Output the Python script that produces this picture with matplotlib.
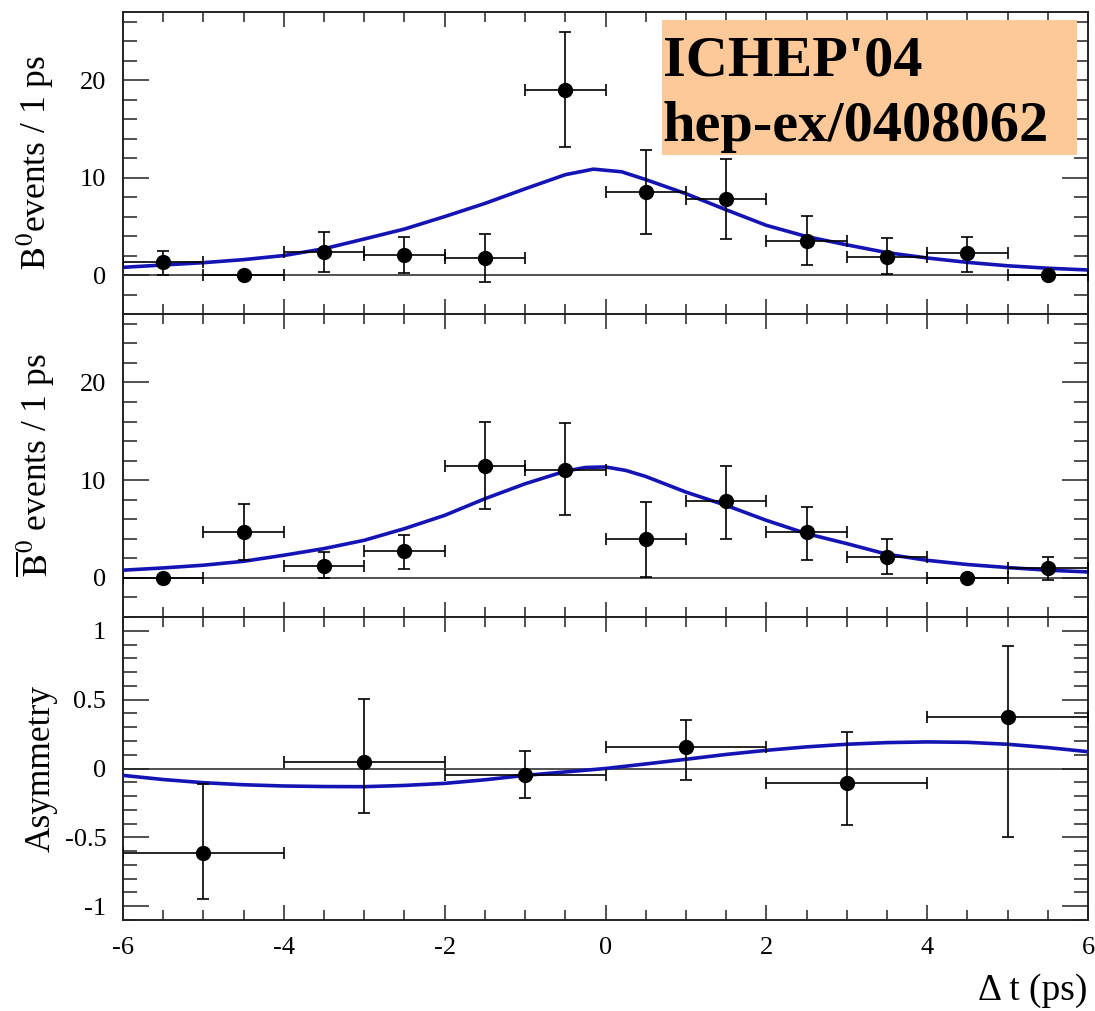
import matplotlib
matplotlib.use("Agg")
import matplotlib.pyplot as plt
from matplotlib.patches import Rectangle
from matplotlib.ticker import MultipleLocator
import numpy as np

plt.rcParams['font.family'] = ['Liberation Serif', 'DejaVu Serif']
plt.rcParams['mathtext.fontset'] = 'stix'
plt.rcParams['axes.unicode_minus'] = False

# ---------------- data ----------------
# B0 tagged events (1 ps bins)
b0_x = [-5.5, -4.5, -3.5, -2.5, -1.5, -0.5, 0.5, 1.5, 2.5, 3.5, 4.5, 5.5]
b0_y = [1.37, 0.0, 2.33, 2.05, 1.71, 18.97, 8.55, 7.76, 3.49, 1.88, 2.22, 0.0]
b0_hi = [2.46, 0.0, 4.44, 3.86, 4.17, 24.9, 12.8, 11.96, 6.05, 3.83, 3.93, 0.0]
b0_lo = [0.0, 0.0, 0.34, 0.17, -0.68, 13.1, 4.2, 3.69, 0.99, 0.10, 0.34, 0.0]

# B0bar tagged events
b0bar_x = [-5.5, -4.5, -3.5, -2.5, -1.5, -0.5, 0.5, 1.5, 2.5, 3.5, 4.5, 5.5]
b0bar_y = [0.0, 4.7, 1.22, 2.72, 11.5, 11.0, 3.95, 7.83, 4.7, 2.14, 0.0, 1.02]
b0bar_hi = [0.0, 7.59, 2.65, 4.43, 16.0, 15.86, 7.76, 11.5, 7.3, 3.95, 0.0, 2.14]
b0bar_lo = [0.0, 1.88, 0.0, 0.95, 7.0, 6.4, 0.1, 4.0, 1.88, 0.38, 0.0, -0.2]

# Asymmetry (2 ps bins)
asym_x = [-5, -3, -1, 1, 3, 5]
asym_y = [-0.617, 0.05, -0.047, 0.159, -0.108, 0.375]
asym_hi = [-0.11, 0.503, 0.127, 0.353, 0.268, 0.89]
asym_lo = [-0.947, -0.326, -0.217, -0.086, -0.409, -0.496]

# fit curves
fit_b0_x = [-6, -5.5, -5, -4.5, -4, -3.5, -3, -2.5, -2, -1.5, -1, -0.5, -0.15,
            0.2, 0.5, 1, 1.5, 2, 2.5, 3, 3.5, 4, 4.5, 5, 5.5, 6]
fit_b0_y = [0.79, 1.03, 1.27, 1.58, 2.0, 2.7, 3.7, 4.72, 6.0, 7.35, 8.85, 10.3, 10.87,
            10.6, 9.8, 8.35, 6.7, 5.1, 3.95, 3.1, 2.3, 1.75, 1.3, 0.95, 0.7, 0.52]

fit_b0bar_x = [-6, -5.5, -5, -4.5, -4, -3.5, -3, -2.5, -2, -1.5, -1, -0.5, -0.25,
               0, 0.25, 0.5, 1, 1.5, 2, 2.5, 3, 3.5, 4, 4.5, 5, 5.5, 6]
fit_b0bar_y = [0.79, 1.02, 1.3, 1.7, 2.32, 3.0, 3.85, 5.04, 6.4, 8.1, 9.63, 10.92, 11.3,
               11.35, 11.0, 10.38, 8.78, 7.42, 5.89, 4.53, 3.51, 2.42, 1.8, 1.37, 1.06, 0.79, 0.61]

fit_asym_x = [-6, -5.5, -5, -4.5, -4, -3.5, -3, -2.5, -2, -1.5, -1, -0.5, 0,
              0.5, 1, 1.5, 2, 2.5, 3, 3.5, 4, 4.5, 5, 5.5, 6]
fit_asym_y = [-0.05, -0.08, -0.103, -0.118, -0.127, -0.131, -0.132, -0.123, -0.108, -0.082,
              -0.05, -0.025, 0.0, 0.033, 0.067, 0.102, 0.132, 0.157, 0.176, 0.188,
              0.193, 0.19, 0.176, 0.152, 0.122]

ylabels = [r'$\mathrm{B}^{0}$events / 1 ps', r'$\overline{\mathrm{B}}^{0}$ events / 1 ps', 'Asymmetry']
xlabel = 'Δ t (ps)'
note_lines = ["ICHEP'04", "hep-ex/0408062"]

# ---------------- figure ----------------
W, H = 1095, 1011
fig = plt.figure(figsize=(W / 100, H / 100), dpi=100)

def fx(px):
    return px / W

def fy(py):
    return 1 - py / H

left, right = 123, 1088
panels = [(12, 314), (314, 617), (617, 920)]
axes = []
for (t, b) in panels:
    ax = fig.add_axes([fx(left), fy(b), fx(right - left), (b - t) / H])
    axes.append(ax)

curve_color = '#1414b4'

def style(ax, ymin, ymax, ymaj, ymin_step, show_x):
    ax.set_xlim(-6, 6)
    ax.set_ylim(ymin, ymax)
    ax.xaxis.set_major_locator(MultipleLocator(2))
    ax.xaxis.set_minor_locator(MultipleLocator(0.5))
    ax.yaxis.set_major_locator(MultipleLocator(ymaj))
    ax.yaxis.set_minor_locator(MultipleLocator(ymin_step))
    ax.tick_params(axis='both', which='both', direction='in', top=True, right=True,
                   width=1.1, colors='#222222', labelcolor='black')
    ax.tick_params(axis='y', which='major', length=19, pad=12, labelsize=19)
    ax.tick_params(axis='y', which='minor', length=10)
    ax.tick_params(axis='x', which='major', length=11, pad=12, labelsize=19)
    ax.tick_params(axis='x', which='minor', length=7)
    if not show_x:
        ax.tick_params(axis='x', labelbottom=False)
    for s in ax.spines.values():
        s.set_linewidth(1.4)
        s.set_color('#222222')
    ax.axhline(0, color='#222222', lw=1.1, zorder=1)

def draw(ax, x, y, hi, lo, hw, fxs, fys):
    y = np.array(y); hi = np.array(hi); lo = np.array(lo)
    yerr = [np.clip(y - lo, 0, None), np.clip(hi - y, 0, None)]
    ax.plot(fxs, fys, color=curve_color, lw=2.6, zorder=3)
    ax.errorbar(x, y, xerr=hw, yerr=yerr, fmt='o', color='black', ms=10,
                elinewidth=1.2, capsize=4, capthick=1.2, zorder=4)

draw(axes[0], b0_x, b0_y, b0_hi, b0_lo, 0.5, fit_b0_x, fit_b0_y)
style(axes[0], -4, 27, 10, 2, False)
draw(axes[1], b0bar_x, b0bar_y, b0bar_hi, b0bar_lo, 0.5, fit_b0bar_x, fit_b0bar_y)
style(axes[1], -4, 27, 10, 2, False)
draw(axes[2], asym_x, asym_y, asym_hi, asym_lo, 1.0, fit_asym_x, fit_asym_y)
style(axes[2], -1.1, 1.1, 0.5, 0.1, True)
axes[2].yaxis.set_major_formatter(matplotlib.ticker.FuncFormatter(
    lambda v, p: ('%g' % v)))

for ax, lab in zip(axes, ylabels):
    ax.set_ylabel(lab, fontsize=25.5)
    ax.yaxis.set_label_coords(-0.068, 0.5)

fig.text(fx(1087), fy(1000), xlabel, fontsize=27, ha='right', va='baseline')

# annotation box
rect = Rectangle((fx(662), fy(155)), fx(1077 - 662), (155 - 20) / H,
                 transform=fig.transFigure, facecolor='#fec998', edgecolor='none', zorder=10)
fig.patches.append(rect)
fig.text(fx(663), fy(75), note_lines[0], fontsize=42, fontweight='bold',
         ha='left', va='baseline', zorder=11)
fig.text(fx(663), fy(141), note_lines[1], fontsize=42, fontweight='bold',
         ha='left', va='baseline', zorder=11)

fig.savefig('out.png', dpi=100)
